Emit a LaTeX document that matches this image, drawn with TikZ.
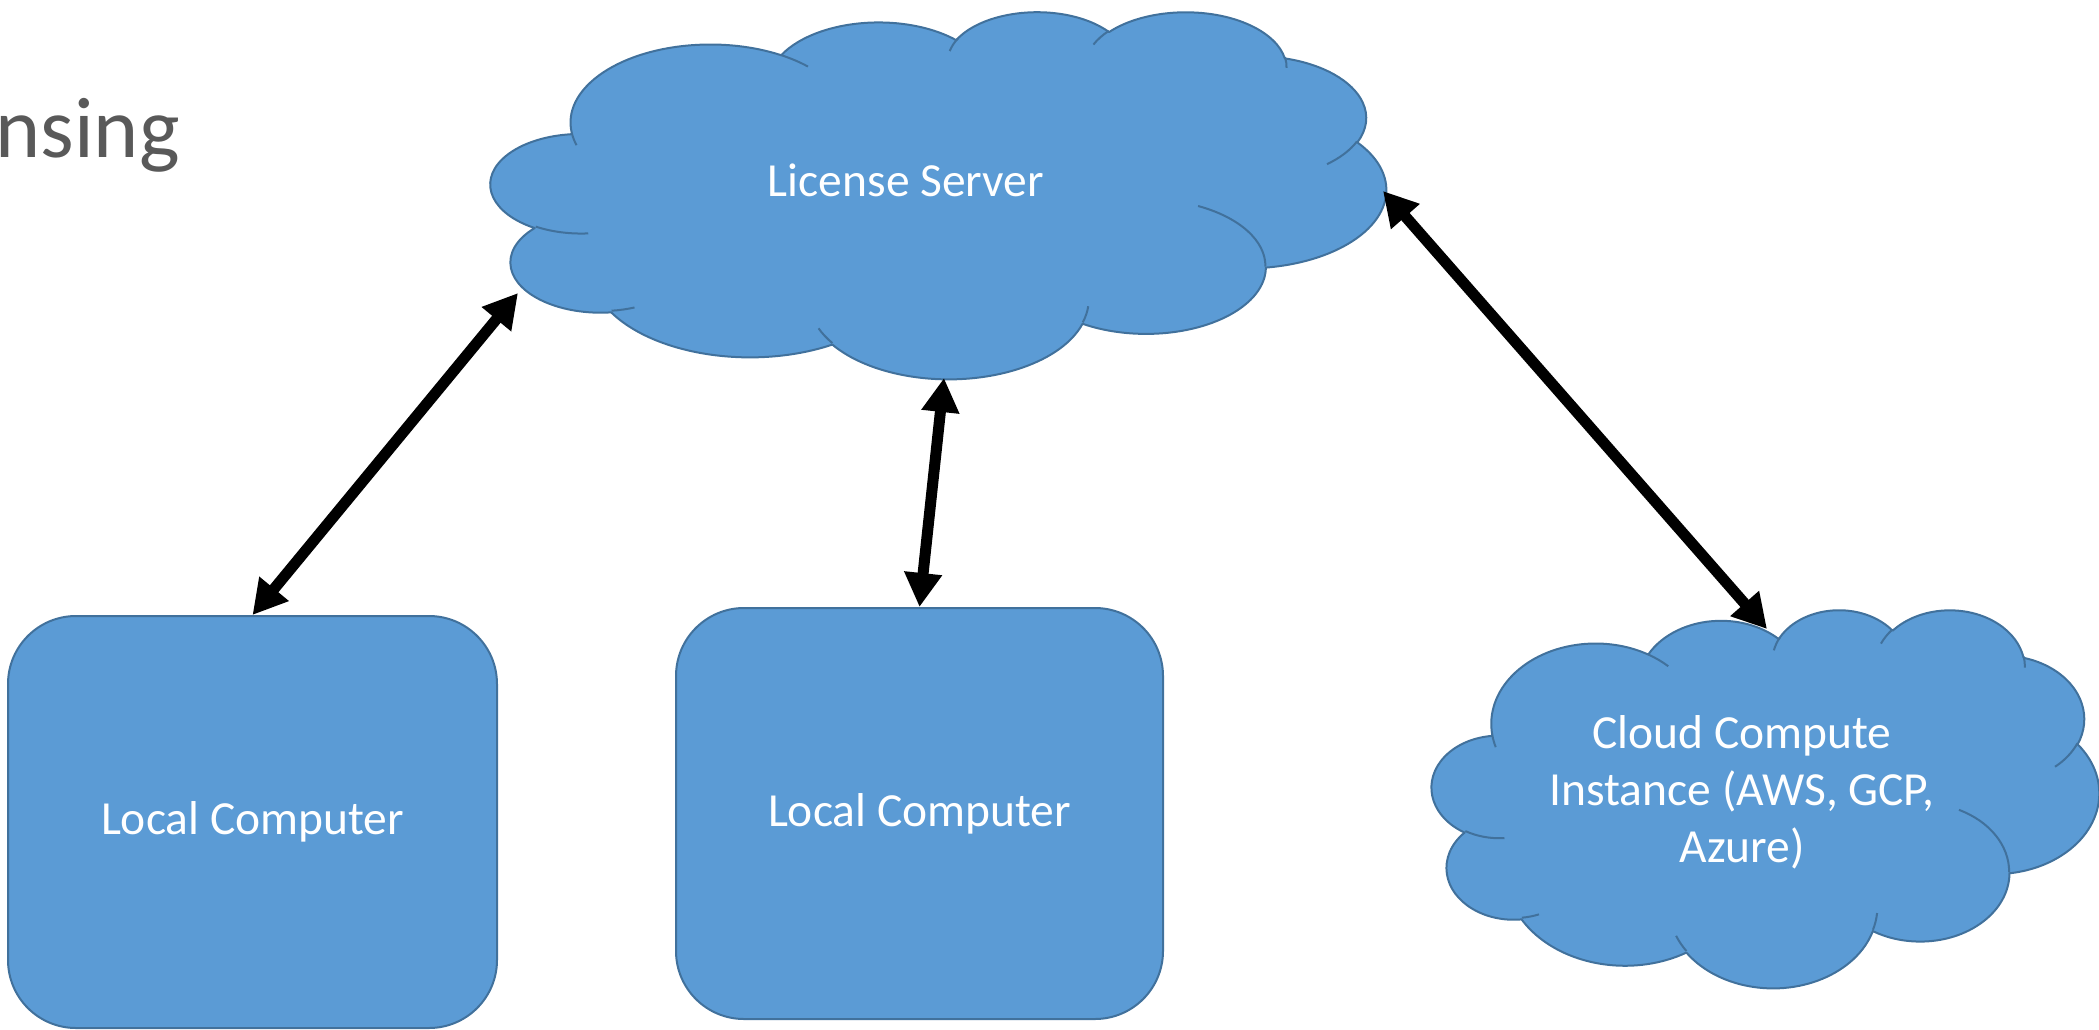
\documentclass[tikz,border=0pt]{standalone}
\usepackage{fontspec}
\setmainfont{Carlito}
\usetikzlibrary{arrows.meta}

\definecolor{shapefill}{HTML}{5B9BD5}
\definecolor{shapeline}{HTML}{41719C}
\definecolor{titlegrey}{HTML}{595959}

\makeatletter
% A point of the cloud, given in 1/10000 of its 43200-unit design square.
\newcommand\cloudpt[2]{\pgfpointxy{\cl@X+(#1)/4.32*\cl@W}{\cl@Y+(#2)/4.32*\cl@H}}
% One elliptic arc of the cloud: x radius, y radius (design units / 10000),
% start direction and sweep in degrees, clockwise on the page.
\newcommand\cloudarc[4]{%
  \pgfmathsetmacro\cl@ta{atan2((#1)*sin(#3),(#2)*cos(#3))}%
  \pgfmathsetmacro\cl@tb{atan2((#1)*sin((#3)+(#4)),(#2)*cos((#3)+(#4)))}%
  \pgfmathsetmacro\cl@dt{\cl@tb-(\cl@ta)}%
  \pgfmathsetmacro\cl@dt{\cl@dt+360*and(#4>0,\cl@dt<0)-360*and(#4<0,\cl@dt>0)}%
  \pgfmathsetmacro\cl@s{-(\cl@ta)}%
  \pgfmathsetmacro\cl@e{-(\cl@ta)-(\cl@dt)}%
  \pgfmathsetmacro\cl@rx{(#1)/4.32*\cl@W*0.5}%
  \pgfmathsetmacro\cl@ry{(#2)/4.32*\cl@H*0.5}%
  \pgfpatharc{\cl@s}{\cl@e}{\cl@rx pt and \cl@ry pt}%
}
% Cloud outline with its inner fold lines: left, top, width, height (px).
\newcommand\cloudshape[4]{%
  \def\cl@X{#1}\def\cl@Y{#2}\def\cl@W{#3}\def\cl@H{#4}%
  \begin{pgfscope}
    \pgfsetfillcolor{shapefill}\pgfsetstrokecolor{shapeline}%
    \pgfsetlinewidth{1pt}\pgfsetroundjoin
    \pgfpathmoveto{\cloudpt{0.39}{1.437}}%
    \cloudarc{0.6753}{0.9190}{-190.4875}{123.7805}%
    \cloudarc{0.5333}{0.7267}{-144.1024}{89.9452}%
    \cloudarc{0.4365}{0.5945}{-145.8079}{99.7230}%
    \cloudarc{0.4857}{0.6595}{-130.9861}{117.2417}%
    \cloudarc{0.5333}{0.7273}{-78.7089}{109.0269}%
    \cloudarc{0.6775}{0.9220}{-46.2673}{130.2690}%
    \cloudarc{0.5785}{0.7867}{0.6250}{114.0333}%
    \cloudarc{0.6752}{0.9215}{22.4516}{115.1726}%
    \cloudarc{0.7720}{1.0543}{66.2426}{75.7110}%
    \cloudarc{0.4360}{0.5918}{-274.9421}{146.7356}%
    \cloudarc{0.4345}{0.5945}{-246.8285}{152.5189}%
    \pgfpathclose
    \pgfusepath{fill,stroke}%
    \pgfpathmoveto{\cloudpt{0.4693}{2.6177}}\cloudarc{0.4345}{0.5945}{86.7420}{26.4295}%
    \pgfpathmoveto{\cloudpt{0.6928}{3.4899}}\cloudarc{0.4360}{0.5918}{73.6105}{11.4475}%
    \pgfpathmoveto{\cloudpt{1.6478}{3.9090}}\cloudarc{0.6752}{0.9215}{137.6242}{14.0811}%
    \pgfpathmoveto{\cloudpt{2.8827}{3.4751}}\cloudarc{0.6752}{0.9215}{6.4533}{15.9984}%
    \pgfpathmoveto{\cloudpt{3.4129}{2.2954}}\cloudarc{0.5785}{0.7867}{-70.2924}{70.9174}%
    \pgfpathmoveto{\cloudpt{4.1798}{1.5354}}\cloudarc{0.5333}{0.7273}{30.3180}{27.7515}%
    \pgfpathmoveto{\cloudpt{3.8324}{0.5426}}\cloudarc{0.4857}{0.6595}{-13.7443}{14.8589}%
    \pgfpathmoveto{\cloudpt{2.9078}{0.3952}}\cloudarc{0.4857}{0.6595}{-149.1815}{18.1954}%
    \pgfpathmoveto{\cloudpt{2.2141}{0.4720}}\cloudarc{0.4365}{0.5945}{-163.4943}{19.0104}%
    \pgfpathmoveto{\cloudpt{1.4000}{0.5192}}\cloudarc{0.6753}{0.9190}{-66.7070}{12.3194}%
    \pgfpathmoveto{\cloudpt{0.4127}{1.5789}}\cloudarc{0.6753}{0.9190}{157.6544}{11.8582}%
    \pgfusepath{stroke}%
  \end{pgfscope}}
\makeatother

\tikzset{
  label font/.style={font=\fontsize{23.75pt}{28.5pt}\selectfont},
  pcbox/.style={draw=shapeline, fill=shapefill, line width=1pt,
    rounded corners=34pt, inner sep=0pt, text=white, label font},
  cloudtext/.style={inner sep=0pt, text=white, label font, align=center},
  titletext/.style={inner sep=0pt, text=titlegrey,
    font=\fontsize{43pt}{52pt}\selectfont},
  link/.style={line width=5.5pt, draw=black,
    {Triangle[length=17pt,width=18pt]}-{Triangle[length=17pt,width=18pt]}},
}

\begin{document}
\begin{tikzpicture}[x=0.5pt, y=-0.5pt]
  \useasboundingbox (0,0) rectangle (2099,1029);

  % heading, running in from the left edge
  \node[titletext, anchor=base west] (title) at (-5,157) {nsing};

  % clouds
  \cloudshape{491}{11}{895}{367}
  \cloudshape{1432}{609}{667}{378}
  \node[cloudtext, anchor=base] (ls) at (906,196) {License Server};
  \node[cloudtext] (cc) at (1742,792)
    {Cloud Compute\\Instance (AWS, GCP,\\Azure)};

  % local machines
  \node[pcbox, minimum width=244.5pt, minimum height=206pt] (lc1)
    at (252.5,822) {Local Computer};
  \node[pcbox, minimum width=243.5pt, minimum height=205.5pt] (lc2)
    at (919.5,813.5) {Local Computer};

  % points where the links meet the cloud outlines
  \coordinate (lsL) at (518,293);
  \coordinate (lsB) at (944,378);
  \coordinate (lsR) at (1383,191);
  \coordinate (ccT) at (1767,629);

  % links
  \draw[link] (lc1.north) -- (lsL);
  \draw[link] (lc2.north) -- (lsB);
  \draw[link] (lsR) -- (ccT);
\end{tikzpicture}
\end{document}
